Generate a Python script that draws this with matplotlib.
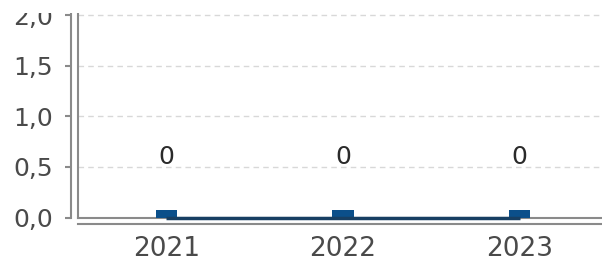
#!/usr/bin/env python3

import matplotlib
matplotlib.use("Agg")
import matplotlib.pyplot as plt
from matplotlib.patches import Rectangle
from matplotlib.ticker import FuncFormatter

years = ["2021", "2022", "2023"]
values = [0, 0, 0]
yticks = [0.0, 0.5, 1.0, 1.5, 2.0]

bar_color = "#0b4f8a"
line_color = "#173f63"
axis_color = "#8a8a8a"
text_color = "#4a4a4a"

W, H = 602, 262
fig = plt.figure(figsize=(W / 100, H / 100), dpi=100)
# plot frame: left at x=78, bottom at y=217.5, top at y=13, runs off the right
ax = fig.add_axes([78 / W, (H - 217.5) / H, (608 - 78) / W, (217.5 - 13) / H])

x = list(range(len(years)))
# zero values still get a small visible stub, as in the original
heights = [max(v, 0.07) for v in values]
ax.bar(x, heights, width=21 / 176.5, color=bar_color, zorder=3)
ax.plot(x, values, color=line_color, linewidth=2.5, zorder=4, solid_capstyle="butt",
        clip_on=False)

for i, v in zip(x, values):
    ax.text(i, v + 0.6, "{}".format(v), ha="center", va="center",
            fontsize=18, color="#2a2a2a", zorder=5)

ax.set_xlim(-0.5, 2.5)
ax.set_ylim(0, 2.02)
ax.set_yticks(yticks)
ax.yaxis.set_major_formatter(FuncFormatter(lambda v, p: "{:.1f}".format(v).replace(".", ",")))
ax.set_xticks(x)
ax.set_xticklabels(years)

ax.grid(axis="y", linestyle=(0, (4, 3)), color="#d8d8d8", linewidth=1, zorder=0)
ax.set_axisbelow(True)

for s in ["top", "right"]:
    ax.spines[s].set_visible(False)
ax.spines["left"].set_position(("outward", 5))
ax.spines["bottom"].set_position(("outward", 4.5))
for s in ["left", "bottom"]:
    ax.spines[s].set_color(axis_color)
    ax.spines[s].set_linewidth(1.5)

# inner frame lines
ax.plot([0, 0], [0, 1], transform=ax.transAxes, color=axis_color, linewidth=1.5,
        clip_on=False, zorder=2)
ax.plot([0, 1], [0, 0], transform=ax.transAxes, color=axis_color, linewidth=1.5,
        clip_on=False, zorder=2)

ax.tick_params(axis="y", length=4, width=1.5, color=axis_color, pad=9,
               labelsize=18, labelcolor=text_color)
ax.tick_params(axis="x", length=0, pad=8.5, labelsize=19, labelcolor=text_color)

# the original picture is cut off above the plot frame
fig.add_artist(Rectangle((0, (H - 13) / H), 1, 13 / H, transform=fig.transFigure,
                         facecolor="white", edgecolor="none", zorder=10))

plt.savefig("out.png", dpi=100)
